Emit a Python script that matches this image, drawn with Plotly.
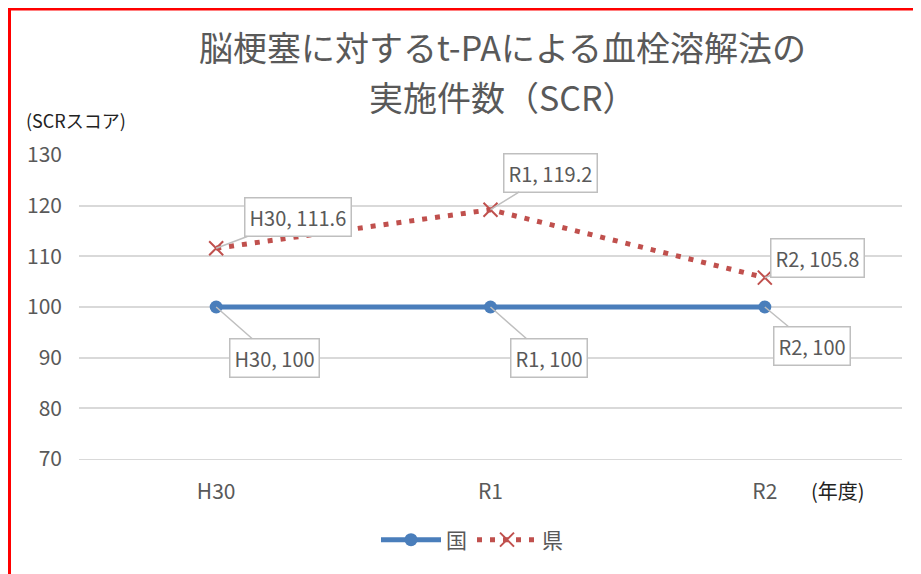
import plotly.graph_objects as go

years = ["H30", "R1", "R2"]
kuni = [100, 100, 100]
ken = [111.6, 119.2, 105.8]

# label box offsets (px) from each point
kuni_off = [(58, 51), (58, 51), (47, 39)]
ken_off = [(82, -31), (60, -37), (53, -20)]

GRAY = "#595959"
FONT = "Noto Sans CJK JP"

# the page puts the figure 8px in from the top-left corner
OFF = 8
W, H = 921 - OFF, 574 - OFF
L, T = 79 - OFF, 155 - OFF
R, B = 921 - 902, 574 - 459
pw, ph = W - L - R, H - T - B


def px_x(p):
    return (p - OFF - L) / pw


def px_y(p):
    return 1 - (p - OFF - T) / ph


fig = go.Figure()
fig.add_trace(go.Scatter(
    x=years, y=kuni, name="国", mode="lines+markers",
    line=dict(color="#4a7ebb", width=5),
    marker=dict(symbol="circle", size=13, color="#4a7ebb"),
))
fig.add_trace(go.Scatter(
    x=years, y=ken, name="県", mode="lines+markers",
    line=dict(color="#c0504d", width=5, dash="5px,8px"),
    marker=dict(symbol="x-thin", size=14, line=dict(color="#c0504d", width=2)),
))

anns = []
for vals, offs in ((ken, ken_off), (kuni, kuni_off)):
    for yr, v, (ax, ay) in zip(years, vals, offs):
        anns.append(dict(
            x=yr, y=v, xref="x", yref="y", text=f"{yr}, {v:g}",
            showarrow=True, arrowhead=0, arrowcolor="#bfbfbf", arrowwidth=1.5,
            ax=ax, ay=ay, bgcolor="white", bordercolor="#bfbfbf", borderwidth=1.5,
            borderpad=4, font=dict(size=20, color=GRAY, family=FONT),
        ))

for txt, yy in (("脳梗塞に対するt-PAによる血栓溶解法の", 46), ("実施件数（SCR）", 96)):
    anns.append(dict(
        text=txt, xref="paper", yref="paper", x=px_x(503), y=px_y(yy),
        xanchor="center", yanchor="middle", showarrow=False,
        font=dict(size=34, color=GRAY, family=FONT),
    ))
anns.append(dict(
    text="(SCRスコア)", xref="paper", yref="paper", x=px_x(24), y=px_y(120),
    xanchor="left", yanchor="middle", showarrow=False,
    font=dict(size=18, color="#222", family=FONT),
))
anns.append(dict(
    text="(年度)", xref="paper", yref="paper", x=px_x(809), y=px_y(490),
    xanchor="left", yanchor="middle", showarrow=False,
    font=dict(size=20, color="#222", family=FONT),
))

fig.update_layout(
    width=W, height=H,
    margin=dict(l=L, r=R, t=T, b=B, autoexpand=False),
    paper_bgcolor="white", plot_bgcolor="white",
    font=dict(family=FONT, color=GRAY),
    showlegend=True,
    legend=dict(orientation="h", x=px_x(472), xanchor="center", y=px_y(540),
                yanchor="middle", font=dict(size=21, color=GRAY), itemwidth=60),
    xaxis=dict(range=[-0.5, 2.5], showgrid=False, showline=True, linecolor="#d9d9d9",
               linewidth=1, automargin=False,
               tickfont=dict(size=21, color=GRAY), ticks="", ticklabelstandoff=14),
    yaxis=dict(range=[70, 130], dtick=10, showgrid=True, gridcolor="#d9d9d9",
               gridwidth=1.5, zeroline=False, showline=False, automargin=False,
               tickfont=dict(size=21, color=GRAY), ticklabelstandoff=16),
    annotations=anns,
    shapes=[dict(type="rect", xref="paper", yref="paper",
                 x0=px_x(OFF + 1.5), x1=px_x(W + 40), y0=px_y(H + 40), y1=px_y(9),
                 line=dict(color="red", width=3), layer="above")],
)

fig.write_html("out.html")
